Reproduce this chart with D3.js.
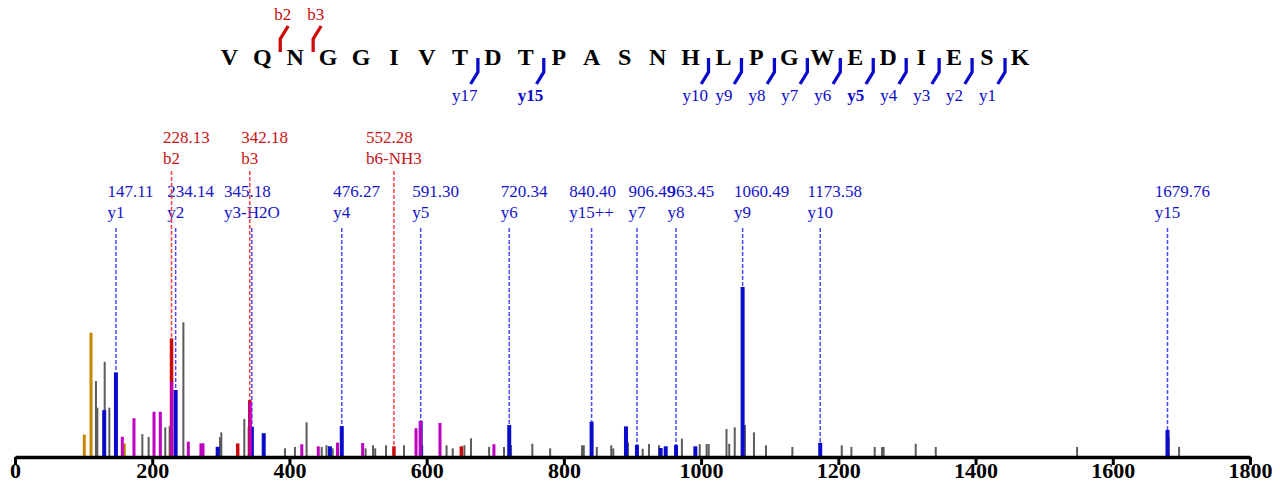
<!DOCTYPE html>
<html><head><meta charset="utf-8">
<script src="https://cdn.jsdelivr.net/npm/d3@7"></script>
<style>body{margin:0;background:#fff} svg{display:block}</style>
</head><body><svg id="c" width="1280" height="494"></svg>
<script>
// ---------- data ----------
const residues = "VQNGGIVTDTPASNHLPGWEDIESK".split("");
const bFound = [2, 3];
const yFound = [17, 15, 10, 9, 8, 7, 6, 5, 4, 3, 2, 1];
const yBold = [15, 5];

const xTicks = [0, 200, 400, 600, 800, 1000, 1200, 1400, 1600, 1800];

const grayMz = [118, 120, 130.7, 137.5, 185.6, 194.8, 219, 225.4, 245.4, 298.8, 300.7, 334.2, 340.5, 393.5, 408, 425, 447, 454, 463, 511, 521.8, 525, 540.7, 567, 593.5, 629, 638, 655, 664.6, 691, 712.7, 723, 754, 780, 826.4, 829, 848, 869, 872, 893.5, 914.8, 924, 938.6, 972, 998, 1008, 1011, 1037, 1041, 1049, 1064, 1077, 1094.6, 1133, 1205, 1219, 1253, 1263.7, 1266, 1312.8, 1342, 1548, 1681.5, 1696.6];
const grayInt = [44.7, 29, 56, 29, 13.5, 11.8, 17.5, 18.2, 79.2, 11.6, 14.5, 22.4, 17.5, 5.1, 5.9, 20.4, 5.9, 6.9, 5.1, 5.1, 6.9, 5.1, 6.9, 6.9, 6.9, 6.9, 5.1, 6.9, 11, 5.9, 5.9, 6.9, 7.8, 5.1, 6.9, 6.9, 5.9, 6.9, 5.1, 8.6, 4.9, 7.6, 6.9, 10.8, 7.6, 7.6, 7.6, 16.5, 7.8, 17.5, 18.8, 14.5, 6.9, 5.9, 6.9, 5.9, 5.9, 5.9, 5.9, 7.8, 5.9, 5.9, 11.9, 5.9];

const orangeMz = [101, 110.8, 159.3];
const orangeInt = [13.1, 73.1, 8];

const redMz = [228.13, 324.6, 342.18, 552.28, 650.5];
const redInt = [69.8, 8, 33.5, 6.3, 6.3];

const blueMz = [130, 147.11, 234.14, 295.4, 345.18, 362.5, 459, 476.27, 591.30, 720.34, 840.40, 890.5, 906.49, 941, 948.4, 963.45, 991.6, 1060.49, 1173.58, 1679.76];
const blueInt = [27.6, 49.8, 39.4, 6, 17.8, 14, 6.3, 18.2, 21.2, 18.8, 20.8, 18, 7.1, 5.3, 6.3, 7.1, 6.3, 100, 8.4, 15.9];

const magentaMz = [156.4, 173.4, 202.6, 211.8, 228.4, 252.6, 271, 274, 343, 418, 442, 470, 506.7, 584.5, 591.0, 619.4, 698];
const magentaInt = [11.9, 22.8, 26.6, 26.6, 44.3, 9, 8, 8, 32.5, 7.5, 6.3, 8.4, 8.2, 16.9, 21.2, 20, 7.5];

const annMz = [147.11, 234.14, 345.18, 476.27, 591.30, 720.34, 840.40, 906.49, 963.45, 1060.49, 1173.58, 1679.76, 228.13, 342.18, 552.28];
const annIon = ["y1", "y2", "y3-H2O", "y4", "y5", "y6", "y15++", "y7", "y8", "y9", "y10", "y15", "b2", "b3", "b6-NH3"];
const annType = ["y","y","y","y","y","y","y","y","y","y","y","y","b","b","b"];

// ---------- styles ----------
const BLUE = "#0a0acc", RED = "#cc0a0a", MAG = "#c000c0", ORANGE = "#c98600", GRAY = "#5c5c5c";
const serif = "Liberation Serif, Times New Roman, serif";

const svg = d3.select("#c");
const x = d3.scaleLinear().domain([0, 1800]).range([15, 1250]);
const y = d3.scaleLinear().domain([0, 100]).range([457, 287]);

// ---------- sequence ----------
const sx = d3.scalePoint().domain(d3.range(residues.length)).range([229.3, 1020]);
const seqG = svg.append("g");
seqG.selectAll("text").data(residues).join("text")
  .attr("x", (d, i) => sx(i)).attr("y", 65)
  .attr("text-anchor", "middle")
  .attr("font-family", serif).attr("font-weight", "bold").attr("font-size", 24)
  .text(d => d);

const gapX = k => (sx(k) + sx(k + 1)) / 2 + 1.5;   // gap after residue index k
const bMarks = bFound.map(n => ({ n, gx: gapX(n - 1) }));
const yMarks = yFound.map(n => ({ n, gx: gapX(residues.length - n - 1) }));

seqG.selectAll("path.b").data(bMarks).join("path").attr("class", "b")
  .attr("d", d => `M${d.gx},52L${d.gx},39L${d.gx + 8},26`)
  .attr("fill", "none").attr("stroke", RED).attr("stroke-width", 3.3);
seqG.selectAll("text.b").data(bMarks).join("text").attr("class", "b")
  .attr("x", d => d.gx - 6).attr("y", 20)
  .attr("font-family", serif).attr("font-size", 17).attr("fill", RED)
  .text(d => "b" + d.n);

seqG.selectAll("path.y").data(yMarks).join("path").attr("class", "y")
  .attr("d", d => `M${d.gx},58L${d.gx},72L${d.gx - 7.3},84`)
  .attr("fill", "none").attr("stroke", BLUE).attr("stroke-width", 3.3);
seqG.selectAll("text.y").data(yMarks).join("text").attr("class", "y")
  .attr("x", d => d.gx - 26).attr("y", 101)
  .attr("font-family", serif).attr("font-size", 17).attr("fill", BLUE)
  .attr("font-weight", d => yBold.includes(d.n) ? "bold" : "normal")
  .text(d => "y" + d.n);

// ---------- annotations ----------
const ann = annMz.map((m, i) => {
  const t = annType[i];
  const arrM = t === "y" ? blueMz : redMz, arrI = t === "y" ? blueInt : redInt;
  let bi = 0; arrM.forEach((v, j) => { if (Math.abs(v - m) < Math.abs(arrM[bi] - m)) bi = j; });
  return { m, ion: annIon[i], t, v: arrI[bi] };
});
const annG = svg.append("g");
ann.forEach(d => {
  const col = d.t === "y" ? "#1414c8" : "#c81414";
  const base = d.t === "y" ? 197 : 142.5;
  const ionT = annG.append("text").attr("y", base + 21)
    .attr("font-family", serif).attr("font-size", 17).attr("fill", col).text(d.ion);
  const w = ionT.node().getComputedTextLength();
  const sx0 = x(d.m) - w / 2;
  ionT.attr("x", sx0);
  annG.append("text").attr("x", sx0).attr("y", base)
    .attr("font-family", serif).attr("font-size", 17).attr("fill", col).text(d.m.toFixed(2));
  annG.append("line")
    .attr("x1", x(d.m)).attr("x2", x(d.m))
    .attr("y1", d.t === "y" ? 228 : 171).attr("y2", y(d.v))
    .attr("stroke", d.t === "y" ? "#4848ff" : "#ff3c3c")
    .attr("stroke-width", 1.5).attr("stroke-dasharray", "4,2");
});

// ---------- peaks ----------
function bars(mzs, ints, color, w) {
  svg.append("g").selectAll("rect")
    .data(mzs.map((m, i) => ({ m, v: ints[i] }))).join("rect")
    .attr("x", d => x(d.m) - w / 2).attr("width", w)
    .attr("y", d => y(d.v)).attr("height", d => y(0) - y(d.v))
    .attr("fill", color);
}
bars(grayMz, grayInt, GRAY, 2);
bars(orangeMz, orangeInt, ORANGE, 3);
bars(redMz, redInt, RED, 3.5);
bars(blueMz, blueInt, BLUE, 4);
bars(magentaMz, magentaInt, MAG, 3);

// ---------- axis ----------
const axis = d3.axisBottom(x).tickValues(xTicks).tickSize(8).tickSizeOuter(0).tickFormat(d3.format("d"));
const ag = svg.append("g").attr("transform", "translate(0,457)").call(axis);
ag.select(".domain").attr("stroke", "#000").attr("stroke-width", 3.5);
ag.selectAll(".tick line").attr("stroke", "#000").attr("stroke-width", 3);
ag.selectAll(".tick text").attr("font-family", serif).attr("font-weight", "bold")
  .attr("font-size", 22).attr("fill", "#000").attr("y", 21).attr("dy", 0);
</script></body></html>
